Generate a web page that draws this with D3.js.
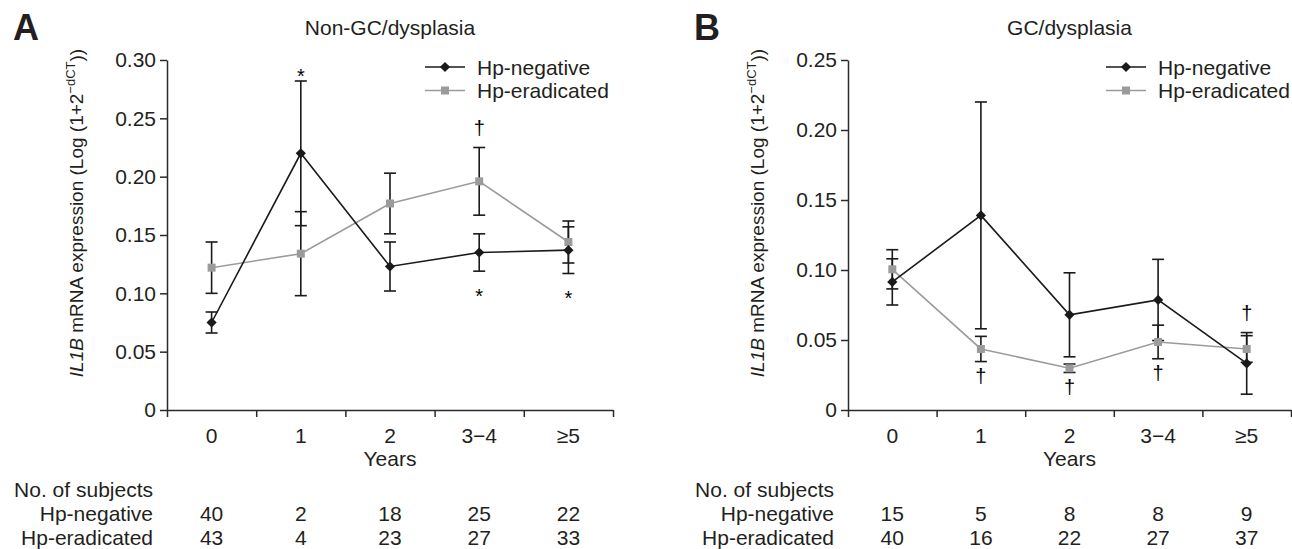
<!DOCTYPE html>
<html>
<head>
<meta charset="utf-8">
<script src="https://cdn.jsdelivr.net/npm/d3@7"></script>
<style>
body{margin:0;background:#fff;}
svg{display:block;}
</style>
</head>
<body>
<div id="chart"></div>
<script>
// categories on the x axis (years after eradication)
const categories = ["0", "1", "2", "3\u22124", "\u22655"];

// A: Non-GC/dysplasia
const nonGcNegMean  = [0.075, 0.220, 0.123, 0.135, 0.137];
const nonGcNegErr   = [0.009, 0.062, 0.021, 0.016, 0.020];
const nonGcEradMean = [0.122, 0.134, 0.177, 0.196, 0.144];
const nonGcEradErr  = [0.022, 0.036, 0.026, 0.029, 0.018];
const nonGcNegN  = [40, 2, 18, 25, 22];
const nonGcEradN = [43, 4, 23, 27, 33];
const nonGcTicks = [0, 0.05, 0.10, 0.15, 0.20, 0.25, 0.30];
// [category index, series, symbol, side]
const nonGcMarks = [[1, "neg", "*", "above"], [3, "neg", "*", "below"], [4, "neg", "*", "below"], [3, "erad", "\u2020", "above"]];

// B: GC/dysplasia
const gcNegMean  = [0.0915, 0.139, 0.068, 0.0786, 0.0333];
const gcNegErr   = [0.0165, 0.081, 0.030, 0.029, 0.022];
const gcEradMean = [0.1005, 0.0436, 0.0298, 0.0486, 0.0436];
const gcEradErr  = [0.014, 0.009, 0.003, 0.012, 0.0095];
const gcNegN  = [15, 5, 8, 8, 9];
const gcEradN = [40, 16, 22, 27, 37];
const gcTicks = [0, 0.05, 0.10, 0.15, 0.20, 0.25];
const gcMarks = [[1, "erad", "\u2020", "below"], [2, "erad", "\u2020", "below"], [3, "erad", "\u2020", "below"], [4, "neg", "\u2020", "above"]];

const W = 1292, H = 549;
const FONT = "'Liberation Sans', Arial, Helvetica, sans-serif";
const FS = "21px";
const TXT = "#231f20";
const NEG_COL = "#1a1a1a", ERAD_COL = "#9b9b9b";

const svg = d3.select("#chart").append("svg")
	.attr("width", W).attr("height", H)
	.style("font-family", FONT);

function drawPanel(cfg){
	let g = svg.append("g"),
		top = 60, bottom = 410,
		yMax = cfg.ticks[cfg.ticks.length - 1];

	let x = d3.scaleBand().domain(categories).range([cfg.x0, cfg.x1]);
	let xEdge = d3.scaleLinear().domain([0, categories.length]).range([cfg.x0, cfg.x1]);
	let y = d3.scaleLinear().domain([0, yMax]).range([bottom, top]);
	let cx = function(i){ return x(categories[i]) + x.bandwidth()/2; };

	// panel letter and title
	g.append("text")
		.attr("x", cfg.x0 - 154).attr("y", 40)
		.style("font-family", "'Liberation Sans Narrow', 'Liberation Sans', Arial, sans-serif")
		.style("font-weight", "bold").style("font-size", "36px")
		.attr("fill", TXT).text(cfg.letter);
	g.append("text")
		.attr("x", (cfg.x0 + cfg.x1)/2).attr("y", 35)
		.attr("text-anchor", "middle").style("font-size", FS)
		.attr("fill", TXT).text(cfg.title);

	// y axis
	let yAxis = g.append("g")
		.attr("transform", "translate(" + cfg.x0 + ",0)")
		.call(d3.axisLeft(y).tickValues(cfg.ticks).tickSize(7).tickSizeOuter(0)
			.tickFormat(function(d){ return d === 0 ? "0" : d3.format(".2f")(d); }));
	yAxis.selectAll("text").style("font-size", FS).attr("fill", TXT).attr("x", -11);

	// x axis: boundary ticks and centred labels
	g.append("g")
		.attr("transform", "translate(0," + bottom + ")")
		.call(d3.axisBottom(xEdge).ticks(categories.length).tickSize(7).tickSizeOuter(0).tickFormat(""));
	g.append("g")
		.attr("transform", "translate(0," + bottom + ")")
		.call(d3.axisBottom(x).tickSize(0))
		.call(function(s){ s.select(".domain").remove(); })
		.selectAll("text").style("font-size", FS).attr("fill", TXT).attr("dy", "1.45em");

	g.selectAll(".domain, .tick line").attr("stroke", "#2a2a2a").attr("stroke-width", 1.5);

	g.append("text")
		.attr("x", (cfg.x0 + cfg.x1)/2).attr("y", 466)
		.attr("text-anchor", "middle").style("font-size", FS)
		.attr("fill", TXT).text("Years");

	// y axis title
	let yt = g.append("text")
		.attr("transform", "translate(" + (cfg.x0 - 84) + ",213) rotate(-90)")
		.attr("text-anchor", "middle").style("font-size", "19px").attr("fill", TXT);
	yt.append("tspan").style("font-style", "italic").text("IL1B");
	yt.append("tspan").text(" mRNA expression (Log (1+2");
	yt.append("tspan").attr("dy", -8).style("font-size", "13px").text("\u2212dCT");
	yt.append("tspan").attr("dy", 8).text("))");

	let series = [
		{key:"erad", mean:cfg.eradMean, err:cfg.eradErr, color:ERAD_COL, shape:"square"},
		{key:"neg", mean:cfg.negMean, err:cfg.negErr, color:NEG_COL, shape:"diamond"}
	];

	// error bars
	series.forEach(function(s){
		s.mean.forEach(function(m, i){
			let eb = g.append("g").attr("stroke", "#1a1a1a").attr("stroke-width", 1.6);
			eb.append("line").attr("x1", cx(i)).attr("x2", cx(i))
				.attr("y1", y(m + s.err[i])).attr("y2", y(m - s.err[i]));
			[m + s.err[i], m - s.err[i]].forEach(function(v){
				eb.append("line").attr("x1", cx(i) - 6).attr("x2", cx(i) + 6)
					.attr("y1", y(v)).attr("y2", y(v));
			});
		});
	});

	// lines
	let line = d3.line().x(function(d, i){ return cx(i); }).y(function(d){ return y(d); });
	series.forEach(function(s){
		g.append("path").datum(s.mean)
			.attr("d", line).attr("fill", "none")
			.attr("stroke", s.color).attr("stroke-width", 1.6);
	});

	// markers
	let sq = d3.symbol(d3.symbolSquare, 64), dia = d3.symbol(d3.symbolSquare, 52);
	series.forEach(function(s){
		s.mean.forEach(function(m, i){
			g.append("path")
				.attr("d", s.shape === "square" ? sq() : dia())
				.attr("transform", "translate(" + cx(i) + "," + y(m) + ")" + (s.shape === "diamond" ? " rotate(45)" : ""))
				.attr("fill", s.color);
		});
	});

	// significance marks
	cfg.marks.forEach(function(mk){
		let s = mk[1] === "neg" ? series[1] : series[0],
			i = mk[0],
			isStar = mk[2] === "*",
			end, center;
		if(mk[3] === "above"){
			end = y(s.mean[i] + s.err[i]);
			center = end - (isStar ? 10 : 18);
		}else{
			end = y(s.mean[i] - s.err[i]);
			center = end + (isStar ? 20 : 16);
		}
		g.append("text")
			.attr("x", cx(i)).attr("y", center + (isStar ? 11.5 : 5.7))
			.attr("text-anchor", "middle").style("font-size", "20px")
			.attr("fill", "#000").style("opacity", 0.99).text(mk[2]);
	});

	// legend
	let lx = cfg.x0 + 258;
	series.slice().reverse().forEach(function(s, k){
		let ly = 67 + k*23.5;
		g.append("line").attr("x1", lx).attr("x2", lx + 40)
			.attr("y1", ly).attr("y2", ly)
			.attr("stroke", s.color).attr("stroke-width", 1.6);
		g.append("path")
			.attr("d", s.shape === "square" ? sq() : dia())
			.attr("transform", "translate(" + (lx + 20) + "," + ly + ")" + (s.shape === "diamond" ? " rotate(45)" : ""))
			.attr("fill", s.color);
		g.append("text").attr("x", lx + 52).attr("y", ly + 7.5)
			.style("font-size", FS).attr("fill", TXT)
			.text(s.key === "neg" ? "Hp-negative" : "Hp-eradicated");
	});

	// number of subjects table
	let tx = cfg.x0 - 14;
	g.append("text").attr("x", tx).attr("y", 497).attr("text-anchor", "end")
		.style("font-size", FS).attr("fill", TXT).text("No. of subjects");
	[["Hp-negative", cfg.negN, 521], ["Hp-eradicated", cfg.eradN, 545]].forEach(function(row){
		g.append("text").attr("x", tx).attr("y", row[2]).attr("text-anchor", "end")
			.style("font-size", FS).attr("fill", TXT).text(row[0]);
		row[1].forEach(function(n, i){
			g.append("text").attr("x", cx(i)).attr("y", row[2]).attr("text-anchor", "middle")
				.style("font-size", FS).attr("fill", TXT).text(n);
		});
	});
}

drawPanel({
	x0: 167, x1: 613, ticks: nonGcTicks, letter: "A", title: "Non-GC/dysplasia",
	negMean: nonGcNegMean, negErr: nonGcNegErr, eradMean: nonGcEradMean, eradErr: nonGcEradErr,
	negN: nonGcNegN, eradN: nonGcEradN, marks: nonGcMarks
});
drawPanel({
	x0: 848, x1: 1291, ticks: gcTicks, letter: "B", title: "GC/dysplasia",
	negMean: gcNegMean, negErr: gcNegErr, eradMean: gcEradMean, eradErr: gcEradErr,
	negN: gcNegN, eradN: gcEradN, marks: gcMarks
});
</script>
</body>
</html>
